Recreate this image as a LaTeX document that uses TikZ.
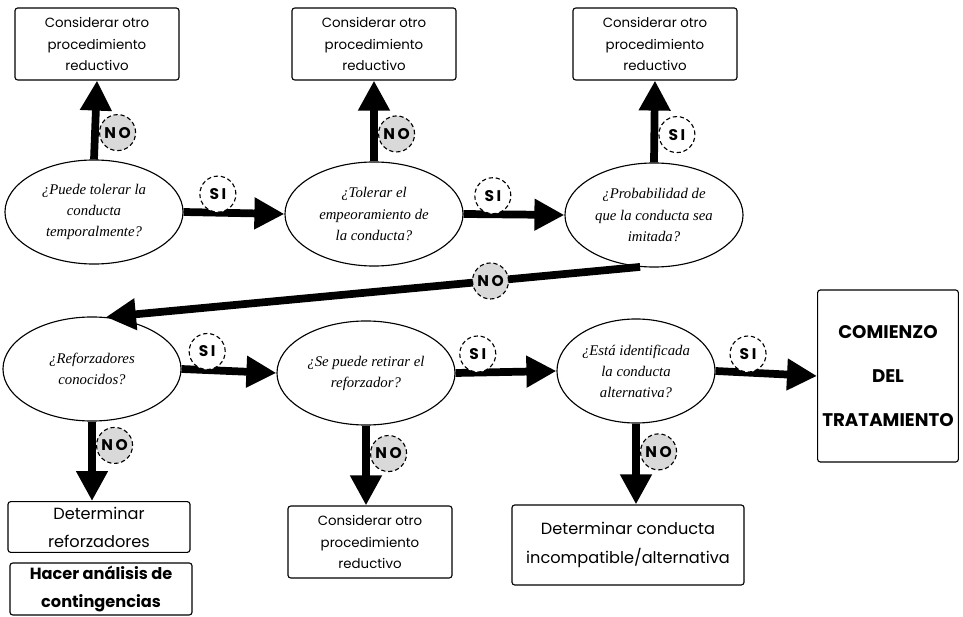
\documentclass[tikz,border=0pt]{standalone}
\usepackage{fontspec}
\setmainfont{Liberation Serif}
\newfontfamily\cajafont{Poppins}
\usetikzlibrary{shapes.geometric,arrows.meta,positioning}

\tikzset{
  pregunta/.style={draw, thick, ellipse, minimum width=4.45cm, minimum height=2.6cm, inner sep=0pt, align=center, font=\itshape\fontsize{10.5}{15}\selectfont},
  caja/.style={draw, thick, rounded corners=2pt, minimum width=4.1cm, minimum height=1.8cm, inner sep=2pt, align=center, font=\cajafont\fontsize{9.5}{15}\selectfont},
  cajagrande/.style={caja, font=\cajafont\fontsize{11.5}{20}\selectfont},
  flecha/.style={line width=5.5pt, -{Triangle[length=7.5mm, width=7.5mm]}},
  si/.style={circle, draw, thick, densely dashed, fill=white, minimum size=0.9cm, inner sep=0pt, font=\cajafont\bfseries\fontsize{11}{12}\selectfont},
  no/.style={si, fill=gray!30},
}

\begin{document}
\begin{tikzpicture}[x=0.025cm, y=-0.025cm]
  \useasboundingbox (0,0) rectangle (963,617);

  \node[caja] (c1) at (97,44) {Considerar otro\\procedimiento\\reductivo};
  \node[caja] (c2) at (374,44) {Considerar otro\\procedimiento\\reductivo};
  \node[caja] (c3) at (655,44) {Considerar otro\\procedimiento\\reductivo};

  \node[pregunta] (e1) at (94,212) {¿Puede tolerar la\\conducta\\temporalmente?};
  \node[pregunta] (e2) at (374,214) {¿Tolerar el\\empeoramiento de\\la conducta?};
  \node[pregunta] (e3) at (654,215) {¿Probabilidad de\\que la conducta sea\\imitada?};

  \node[pregunta] (e4) at (92,369) {¿Reforzadores\\conocidos?};
  \node[pregunta] (e5) at (366,373) {¿Se puede retirar el\\reforzador?};
  \node[pregunta, minimum width=3.95cm] (e6) at (636,371) {¿Está identificada\\la conducta\\alternativa?};

  \node[draw, thick, rounded corners=2pt, minimum width=3.5cm, minimum height=4.3cm, align=center,
        font=\cajafont\bfseries\fontsize{13}{31}\selectfont] (fin) at (888,376) {COMIENZO\\DEL\\TRATAMIENTO};

  \node[cajagrande, minimum width=4.55cm, minimum height=1.27cm] (r1) at (99,527) {Determinar\\reforzadores};
  \node[cajagrande, minimum width=4.55cm, minimum height=1.3cm, font=\cajafont\bfseries\fontsize{11.5}{20}\selectfont] (r2) at (101,589) {Hacer análisis de\\contingencias};
  \node[caja] (c4) at (370,542) {Considerar otro\\procedimiento\\reductivo};
  \node[cajagrande, minimum width=5.8cm, minimum height=2cm] (alt) at (628,545) {Determinar conducta\\incompatible/alternativa};

  \draw[flecha] (e1.north) -- (c1.south) node[no, pos=0.34, right=1mm] (n1) {N\,O};
  \draw[flecha] (e2.north) -- (c2.south) node[no, pos=0.34, right=1mm] (n2) {N\,O};
  \draw[flecha] (e3.north) -- (c3.south) node[si, pos=0.34, right=1mm] (s3) {S\,I};

  \draw[flecha] (e1.east) -- (e2.west) node[si, pos=0.34, above] (s1) {S\,I};
  \draw[flecha] (e2.east) -- (e3.west) node[si, pos=0.29, above] (s2) {S\,I};

  \draw[flecha] (e3.255) -- (e4.75) node[no, pos=0.28] (n3) {N\,O};

  \draw[flecha] (e4.east) -- (e5.west) node[si, pos=0.27, above] (s4) {S\,I};
  \draw[flecha] (e5.east) -- (e6.west) node[si, pos=0.22, above] (s5) {S\,I};
  \draw[flecha] (e6.east) -- (fin.west) node[si, pos=0.32, above] (s6) {S\,I};

  \draw[flecha] (e4.south) -- (r1.north -| e4.south) node[no, pos=0.3, right=1mm] (n4) {N\,O};
  \draw[flecha] (e5.south) -- (c4.north -| e5.south) node[no, pos=0.35, right=1mm] (n5) {N\,O};
  \draw[flecha] (e6.south) -- (alt.north -| e6.south) node[no, pos=0.35, right=1mm] (n6) {N\,O};
\end{tikzpicture}
\end{document}
